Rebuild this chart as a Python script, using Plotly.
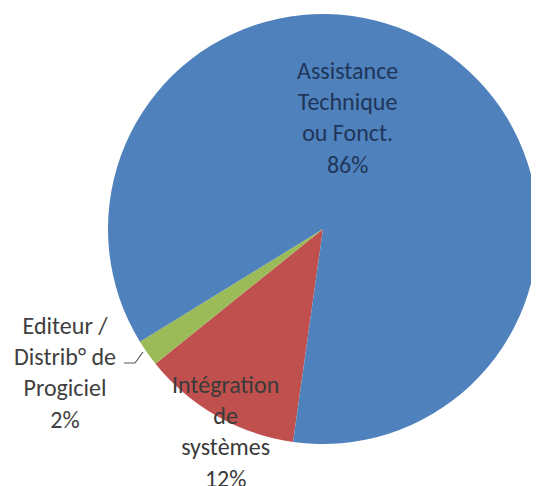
import plotly.graph_objects as go

# ---- data ----
categories = ["Intégration<br>de<br>systèmes", "Editeur /<br>Distrib° de<br>Progiciel", "Assistance<br>Technique<br>ou Fonct."]
values = [12, 2, 86]
colors = ["#C0504D", "#9BBB59", "#4F81BD"]
label_colors = ["#3A3A3A", "#3F3F3F", "#1F3659"]

W, H = 539, 486
OFF = 8  # page body margin offset
# pie geometry in pixels (reference coordinates)
cx, cy, r = 323, 229, 215

def px(x):
    return (x - OFF) / W

def py(y):
    return 1 - (y - OFF) / H

# label anchor positions (reference pixels)
label_pos = [(225, 431), (65, 372), (347, 118)]

total = sum(values)

fig = go.Figure(go.Pie(
    labels=categories,
    values=values,
    sort=False,
    direction="clockwise",
    rotation=188,
    marker=dict(colors=colors, line=dict(width=0)),
    textinfo="none",
    hoverinfo="label+percent",
    showlegend=False,
    domain=dict(x=[px(cx - r), px(cx + r)], y=[py(cy + r), py(cy - r)]),
))

annotations = []
for cat, v, col, (lx, ly) in zip(categories, values, label_colors, label_pos):
    annotations.append(dict(
        x=px(lx), y=py(ly), xref="paper", yref="paper",
        text=f"{cat}<br>{round(100 * v / total)}%",
        showarrow=False, xanchor="center", yanchor="middle", align="center",
        font=dict(family="Carlito, Lato, sans-serif", size=24, color=col),
    ))

# leader line for small slice
lead = [(124, 363), (135, 363), (143, 352)]
path = "M " + " L ".join(f"{px(x)},{py(y)}" for x, y in lead)

fig.update_layout(
    width=W, height=H,
    margin=dict(l=0, r=0, t=0, b=0),
    paper_bgcolor="white",
    plot_bgcolor="white",
    annotations=annotations,
    shapes=[dict(type="path", path=path, xref="paper", yref="paper",
                 line=dict(color="#595959", width=1.2))],
)

fig.write_html("out.html")
